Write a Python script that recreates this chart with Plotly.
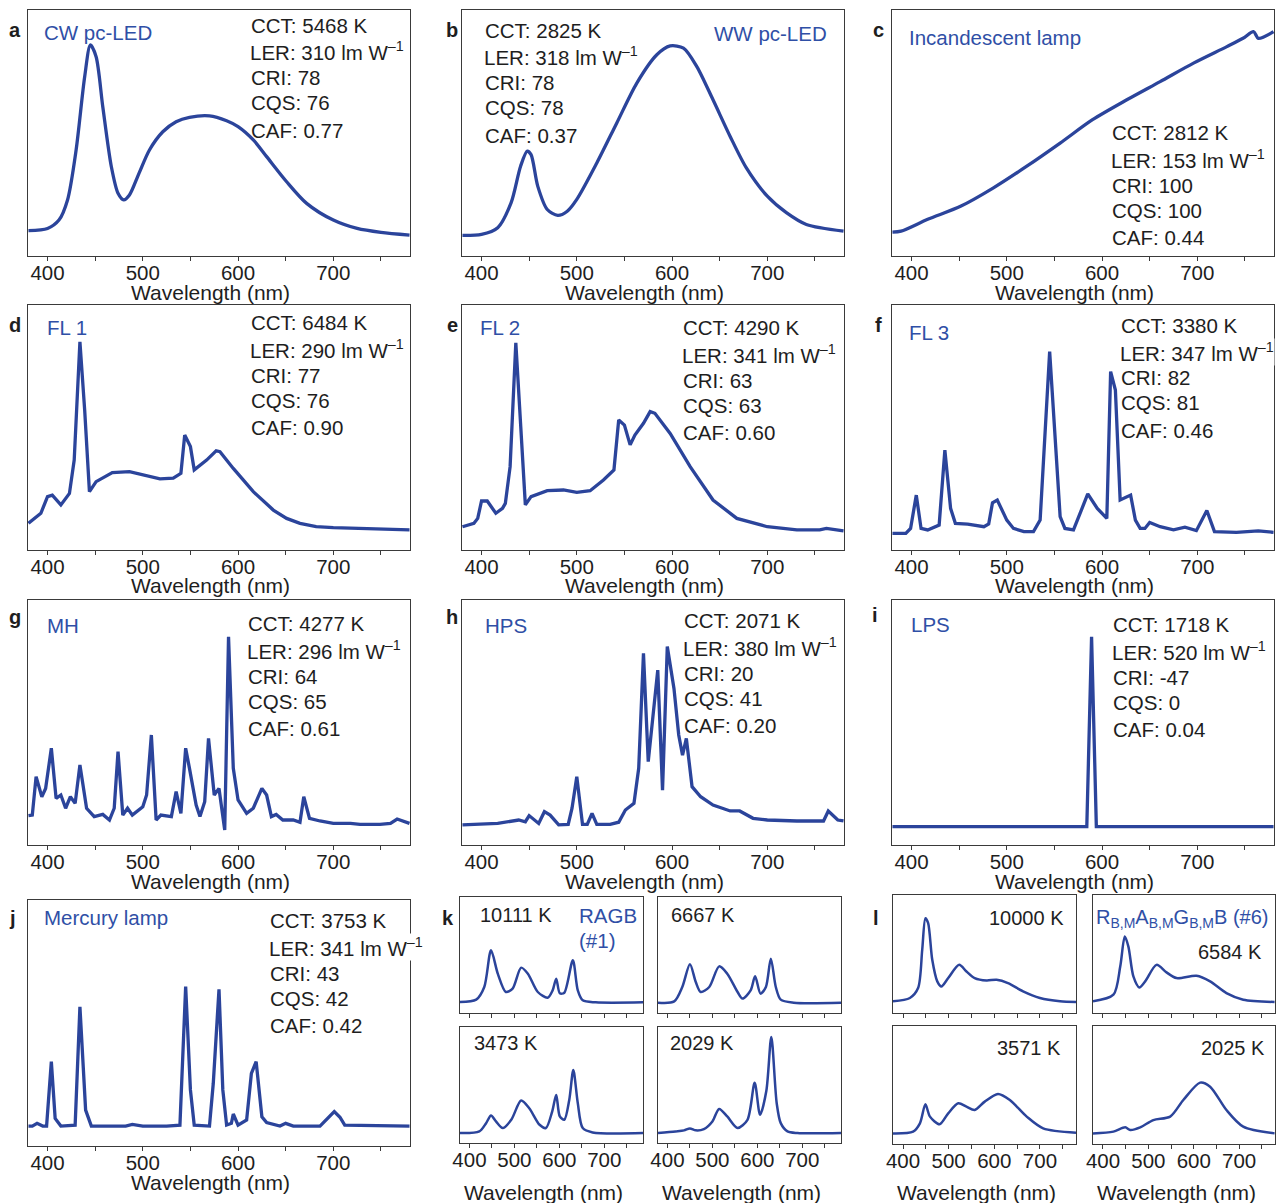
import plotly.graph_objects as go

# ---------------- DATA (relative intensity) ----------------
wl_a = [380,400,412,421,430,439,445,451,458,467,474,480,486,496,507,521,535,549,570,588,600,616,630,651,672,700,725,750,780]
int_a = [0.103,0.112,0.146,0.228,0.431,0.729,0.858,0.81,0.607,0.363,0.255,0.228,0.248,0.336,0.431,0.505,0.546,0.564,0.570,0.550,0.526,0.472,0.404,0.302,0.214,0.146,0.112,0.096,0.085]

wl_b = [380,400,417,431,441,448,452,459,469,480,490,500,521,542,563,584,598,612,626,643,661,678,700,720,741,780]
int_b = [0.084,0.088,0.115,0.216,0.365,0.426,0.412,0.284,0.189,0.165,0.182,0.230,0.378,0.541,0.703,0.818,0.854,0.845,0.770,0.635,0.486,0.358,0.243,0.176,0.128,0.101]

wl_c = [380,389,417,452,486,521,556,590,626,661,696,731,748,759,764,780]
int_c = [0.097,0.101,0.149,0.203,0.277,0.365,0.459,0.554,0.635,0.709,0.784,0.851,0.885,0.912,0.885,0.912]

wl_d = [380,393,400,405,414,423,428,434,439,444,451,468,486,500,518,532,540,544,550,554,567,577,581,595,616,637,651,665,682,700,735,780]
int_d = [0.109,0.150,0.218,0.224,0.184,0.231,0.367,0.850,0.571,0.238,0.279,0.316,0.320,0.306,0.290,0.293,0.313,0.469,0.422,0.327,0.367,0.405,0.401,0.333,0.238,0.163,0.129,0.109,0.095,0.091,0.086,0.082]

wl_e = [380,392,396,400,406,415,422,425,430,436,446,452,469,486,500,514,528,539,544,550,556,561,570,577,582,598,619,643,668,700,731,755,762,780]
int_e = [0.095,0.109,0.129,0.200,0.200,0.150,0.170,0.190,0.340,0.846,0.184,0.218,0.242,0.245,0.235,0.242,0.286,0.327,0.531,0.510,0.429,0.469,0.517,0.565,0.558,0.476,0.340,0.204,0.129,0.095,0.082,0.082,0.088,0.078]

wl_f = [380,394,399,405,410,417,429,435,441,446,459,476,481,485,490,500,507,518,528,535,545,556,561,570,579,585,595,605,609,614,619,630,635,640,645,650,661,675,687,699,710,718,741,764,780]
int_f = [0.068,0.068,0.088,0.224,0.088,0.082,0.102,0.408,0.170,0.109,0.106,0.095,0.106,0.193,0.204,0.122,0.088,0.075,0.075,0.122,0.810,0.136,0.088,0.082,0.170,0.229,0.170,0.129,0.728,0.653,0.204,0.224,0.122,0.088,0.088,0.112,0.095,0.082,0.093,0.079,0.161,0.075,0.072,0.078,0.072]

wl_g = [380,384,388,394,398,404,409,414,419,424,429,434,441,449,458,465,470,474,479,484,489,500,504,509,514,519,530,535,540,545,549,556,560,565,569,575,580,586,590,595,600,609,616,625,630,635,640,647,658,665,669,675,686,700,718,728,749,760,767,780]
int_g = [0.120,0.122,0.279,0.197,0.231,0.395,0.190,0.204,0.150,0.197,0.170,0.327,0.150,0.116,0.125,0.102,0.150,0.381,0.122,0.150,0.122,0.156,0.204,0.449,0.102,0.122,0.116,0.218,0.129,0.395,0.313,0.163,0.116,0.177,0.435,0.204,0.231,0.061,0.850,0.313,0.184,0.129,0.150,0.231,0.204,0.116,0.125,0.102,0.102,0.093,0.197,0.109,0.098,0.088,0.088,0.084,0.084,0.088,0.106,0.088]

wl_h = [380,417,439,446,450,460,466,472,481,491,495,500,506,511,516,521,535,544,551,560,565,570,575,585,590,595,602,607,611,615,621,630,643,661,671,685,700,731,759,764,774,780]
int_h = [0.082,0.088,0.102,0.095,0.120,0.088,0.136,0.122,0.082,0.084,0.150,0.279,0.084,0.084,0.129,0.084,0.084,0.093,0.143,0.170,0.313,0.782,0.340,0.714,0.224,0.810,0.639,0.449,0.367,0.435,0.238,0.197,0.163,0.139,0.139,0.109,0.102,0.098,0.098,0.139,0.102,0.098]

wl_i = [380,584,589,594,780]
int_i = [0.075,0.075,0.850,0.075,0.075]

wl_j = [380,384,389,395,399,404,408,414,429,434,440,446,482,489,500,525,539,545,550,554,570,574,580,584,588,593,595,600,609,614,619,625,630,644,650,658,686,695,701,707,712,780]
int_j = [0.081,0.081,0.092,0.081,0.081,0.343,0.112,0.081,0.085,0.566,0.146,0.081,0.081,0.088,0.081,0.081,0.085,0.648,0.228,0.085,0.081,0.255,0.637,0.228,0.085,0.092,0.130,0.085,0.106,0.295,0.343,0.119,0.095,0.081,0.092,0.081,0.081,0.115,0.140,0.117,0.085,0.081]

# panel k (RAGB #1)
wl_k1 = [379,415,433,448,463,481,496,515,530,552,574,585,593,601,611,630,641,652,681,786]
int_k1 = [0.095,0.115,0.224,0.540,0.339,0.181,0.210,0.391,0.339,0.181,0.132,0.195,0.296,0.170,0.175,0.454,0.195,0.109,0.092,0.092]
wl_k2 = [379,415,433,450,463,474,493,515,533,556,567,585,595,607,619,630,641,652,681,786]
int_k2 = [0.089,0.100,0.224,0.420,0.267,0.181,0.224,0.402,0.339,0.181,0.124,0.195,0.316,0.167,0.224,0.468,0.224,0.115,0.089,0.089]
wl_k3 = [379,422,437,448,459,474,493,515,533,556,570,584,593,601,611,622,631,641,652,674,786]
int_k3 = [0.086,0.100,0.171,0.237,0.186,0.129,0.200,0.366,0.300,0.157,0.129,0.271,0.414,0.229,0.200,0.371,0.629,0.343,0.129,0.091,0.086]
wl_k4 = [379,418,437,450,463,481,500,515,533,556,578,594,606,620,631,643,652,667,689,786]
int_k4 = [0.086,0.100,0.109,0.126,0.109,0.120,0.186,0.294,0.229,0.129,0.200,0.520,0.243,0.450,0.914,0.343,0.171,0.100,0.086,0.086]

# panel l (RB,M AB,M GB,M B #6)
wl_l1 = [378,415,433,442,449,455,464,475,484,499,523,539,557,583,605,630,663,700,744,779]
int_l1 = [0.099,0.127,0.211,0.535,0.803,0.761,0.451,0.268,0.225,0.296,0.408,0.352,0.296,0.276,0.282,0.254,0.183,0.127,0.099,0.093]
wl_l2 = [378,423,438,448,456,467,480,493,518,540,562,606,636,672,709,778]
int_l2 = [0.099,0.155,0.394,0.648,0.563,0.310,0.217,0.268,0.408,0.344,0.296,0.315,0.268,0.169,0.113,0.093]
wl_l3 = [378,422,437,449,459,480,499,521,539,557,579,608,634,671,707,779]
int_l3 = [0.090,0.105,0.175,0.336,0.232,0.167,0.260,0.345,0.316,0.288,0.359,0.424,0.373,0.232,0.133,0.096]
wl_l4 = [378,423,449,460,482,511,548,577,614,636,672,709,778]
int_l4 = [0.090,0.105,0.141,0.119,0.141,0.203,0.232,0.373,0.520,0.486,0.288,0.147,0.090]

# labels and metrics
big_keys = ['a', 'b', 'c', 'd', 'e', 'f', 'g', 'h', 'i', 'j']
source_names = ['CW pc-LED', 'WW pc-LED', 'Incandescent lamp', 'FL 1', 'FL 2', 'FL 3', 'MH', 'HPS', 'LPS', 'Mercury lamp']
cct = [5468, 2825, 2812, 6484, 4290, 3380, 4277, 2071, 1718, 3753]
ler = [310, 318, 153, 290, 341, 347, 296, 380, 520, 341]
cri = [78, 78, 100, 77, 63, 82, 64, 20, -47, 43]
cqs = [76, 78, 100, 76, 63, 81, 65, 41, 0, 42]
caf = ['0.77', '0.37', '0.44', '0.90', '0.60', '0.46', '0.61', '0.20', '0.04', '0.42']
k_cct = [10111, 6667, 3473, 2029]
l_cct = [10000, 6584, 3571, 2025]
major_ticks = [400, 500, 600, 700]
minor_ticks = [450, 550, 650, 750]

# ---------------- LAYOUT ----------------
W, H = 1288, 1203
LINE = '#2B449B'
BLUE_TXT = '#2F4FA6'
AXC = '#3a3a3a'
FONT = 'Liberation Sans, Arial, Helvetica, sans-serif'
TXT = '#1e1e1e'

big_x = {'a': wl_a, 'b': wl_b, 'c': wl_c, 'd': wl_d, 'e': wl_e, 'f': wl_f, 'g': wl_g, 'h': wl_h, 'i': wl_i, 'j': wl_j}
big_y = {'a': int_a, 'b': int_b, 'c': int_c, 'd': int_d, 'e': int_e, 'f': int_f, 'g': int_g, 'h': int_h, 'i': int_i, 'j': int_j}
big_shape = {'a': 'spline', 'b': 'spline', 'c': 'spline'}

# pixel boxes (x0, y0, x1, y1)
big_box = {
    'a': (28, 10, 410, 256), 'b': (462, 10, 844, 256), 'c': (892, 10, 1274, 256),
    'd': (28, 305, 410, 550), 'e': (462, 305, 844, 550), 'f': (892, 305, 1274, 550),
    'g': (28, 600, 410, 845), 'h': (462, 600, 844, 845), 'i': (892, 600, 1274, 845),
    'j': (28, 900, 410, 1146),
}
small_box = {
    'k1': (460, 897, 643, 1013), 'k2': (658, 897, 841, 1013),
    'k3': (460, 1027, 643, 1143), 'k4': (658, 1027, 841, 1143),
    'l1': (893, 895, 1076, 1013), 'l2': (1093, 895, 1275, 1013),
    'l3': (893, 1026, 1076, 1144), 'l4': (1093, 1026, 1275, 1144),
}
small_x = {'k1': wl_k1, 'k2': wl_k2, 'k3': wl_k3, 'k4': wl_k4, 'l1': wl_l1, 'l2': wl_l2, 'l3': wl_l3, 'l4': wl_l4}
small_y = {'k1': int_k1, 'k2': int_k2, 'k3': int_k3, 'k4': int_k4, 'l1': int_l1, 'l2': int_l2, 'l3': int_l3, 'l4': int_l4}

fig = go.Figure()
layout = dict(width=W, height=H, margin=dict(l=0, r=0, t=0, b=0, pad=0, autoexpand=False),
              template='none',
              paper_bgcolor='white', plot_bgcolor='white', showlegend=False,
              font=dict(family=FONT, size=20, color=TXT))
annotations = []


def ann(px, py, text, size=20, color=TXT, xanchor='left', yanchor='middle', bg=None):
    a = dict(x=px / W, y=1 - py / H, xref='paper', yref='paper', text=text,
             showarrow=False, xanchor=xanchor, yanchor=yanchor,
             font=dict(family=FONT, size=size, color=color))
    if bg:
        a['bgcolor'] = bg
        a['borderpad'] = 0
    annotations.append(a)


def add_axes(idx, box, xrange, show_labels=True):
    x0, y0, x1, y1 = box
    xn = 'xaxis' if idx == 1 else f'xaxis{idx}'
    yn = 'yaxis' if idx == 1 else f'yaxis{idx}'
    anchor_y = 'y' if idx == 1 else f'y{idx}'
    anchor_x = 'x' if idx == 1 else f'x{idx}'
    layout[xn] = dict(domain=[x0 / W, x1 / W], range=xrange, anchor=anchor_y, automargin=False,
                      showline=True, linecolor=AXC, linewidth=1.4, mirror=True,
                      ticks='outside', ticklen=4, tickwidth=1, tickcolor=AXC,
                      tickmode='array', tickvals=major_ticks,
                      minor=dict(tickmode='array', tickvals=minor_ticks, ticks='outside',
                                 ticklen=4, tickwidth=1, tickcolor=AXC, showgrid=False),
                      showticklabels=show_labels, ticklabelstandoff=-6,
                      tickfont=dict(family=FONT, size=20.5, color=TXT),
                      showgrid=False, zeroline=False, fixedrange=True)
    layout[yn] = dict(domain=[1 - y1 / H, 1 - y0 / H], range=[0, 1], anchor=anchor_x, automargin=False,
                      showline=True, linecolor=AXC, linewidth=1.4, mirror=True,
                      ticks='', showticklabels=False, showgrid=False, zeroline=False, fixedrange=True)
    return anchor_x, anchor_y


idx = 0
for k in big_keys:
    idx += 1
    box = big_box[k]
    ax, ay = add_axes(idx, box, [379.5, 780.5])
    fig.add_trace(go.Scatter(x=big_x[k], y=big_y[k], mode='lines', xaxis=ax, yaxis=ay,
                             line=dict(color=LINE, width=3.3, shape=big_shape.get(k, 'linear'), smoothing=0.8),
                             hoverinfo='skip'))
    x0, y0, x1, y1 = box
    ann((x0 + x1) / 2 - 9, y1 + 36, 'Wavelength (nm)', size=21, xanchor='center')

for k in ['k1', 'k2', 'k3', 'k4', 'l1', 'l2', 'l3', 'l4']:
    idx += 1
    box = small_box[k]
    xr = [379, 786] if k[0] == 'k' else [378, 779]
    bottom = k[1] in '34'
    ax, ay = add_axes(idx, box, xr, show_labels=bottom)
    fig.add_trace(go.Scatter(x=small_x[k], y=small_y[k], mode='lines', xaxis=ax, yaxis=ay,
                             line=dict(color=LINE, width=2.5, shape='spline', smoothing=0.8),
                             hoverinfo='skip'))
    if bottom:
        x0, y0, x1, y1 = box
        ann((x0 + x1) / 2 - 8, 1192, 'Wavelength (nm)', size=21, xanchor='center')

# panel letters
letter_pos = {'a': (15, 30), 'b': (452, 30), 'c': (878, 30), 'd': (15, 325), 'e': (452, 325),
              'f': (878, 325), 'g': (15, 617), 'h': (452, 617), 'i': (875, 615), 'j': (12, 918),
              'k': (448, 918), 'l': (876, 918)}
for L, (px, py) in letter_pos.items():
    ann(px, py, f'<b>{L}</b>', size=20, xanchor='center')

# source names
name_pos = {'a': (42, 33, 'left'), 'b': (829, 34, 'right'), 'c': (907, 37, 'left'),
            'd': (45, 328, 'left'), 'e': (478, 328, 'left'), 'f': (907, 333, 'left'),
            'g': (45, 625, 'left'), 'h': (483, 625, 'left'), 'i': (909, 624, 'left'),
            'j': (42, 917, 'left')}
for k, name in zip(big_keys, source_names):
    px, py, xa = name_pos[k]
    ann(px, py, name, size=20.5, color=BLUE_TXT, xanchor=xa)

# metrics text
stat_pos = {'a': (249, 25), 'b': (483, 30), 'c': (1110, 132), 'd': (249, 323), 'e': (681, 327),
            'f': (1119, 325), 'g': (246, 623), 'h': (682, 620), 'i': (1111, 624), 'j': (268, 920)}
offsets = [0, 26.5, 53, 78, 105]
for i, k in enumerate(big_keys):
    lines = [f'CCT: {cct[i]} K', f'LER: {ler[i]} lm W<sup>–1</sup>', f'CRI: {cri[i]}',
             f'CQS: {cqs[i]}', f'CAF: {caf[i]}']
    px, py = stat_pos[k]
    for j, (off, t) in enumerate(zip(offsets, lines)):
        ann(px, py + off, t, size=20.5, bg='white' if j == 1 else None)

# small panel labels
k_pos = [(478, 915), (669, 915), (472, 1043), (668, 1043)]
for (px, py), v in zip(k_pos, k_cct):
    ann(px, py, f'{v} K', size=20)
ann(577, 915, 'RAGB', size=20.5, color=BLUE_TXT)
ann(577, 940, '(#1)', size=20.5, color=BLUE_TXT)

l_pos = [(1066, 918), (1264, 952), (1063, 1048), (1267, 1048)]
for (px, py), v in zip(l_pos, l_cct):
    ann(px, py, f'{v} K', size=20, xanchor='right')
ann(1094, 918, 'R<sub>B,M</sub>A<sub>B,M</sub>G<sub>B,M</sub>B (#6)', size=20, color=BLUE_TXT)

layout['annotations'] = annotations
fig.update_layout(**layout)
fig.write_html('out.html')
